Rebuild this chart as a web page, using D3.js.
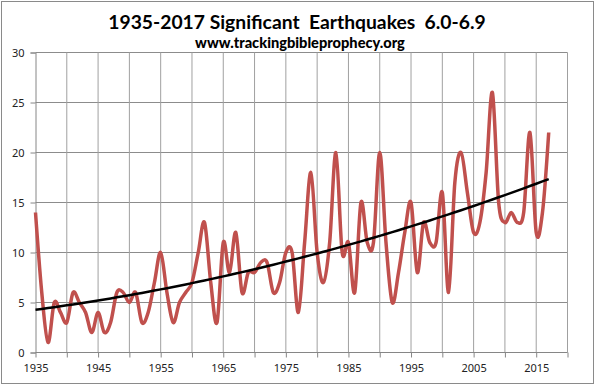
<!DOCTYPE html>
<html>
<head>
<meta charset="utf-8">
<script src="https://cdn.jsdelivr.net/npm/d3@7"></script>
<style>
  body { margin: 0; background: #fff; }
  svg { display: block; }
</style>
</head>
<body>
<svg width="596" height="386"></svg>
<script>
// years 1935..2017, counts
const years = d3.range(1935, 2018)
const counts = [
  14, 6, 1, 5, 4, 3, 6, 5, 4, 2,
  4, 2, 3, 6, 6, 5, 6, 3, 4, 7,
  10, 6, 3, 5, 6, 7, 10, 13, 7, 3,
  11, 8, 12, 6, 8, 8, 9, 9, 6, 7,
  10, 10, 4, 11, 18, 10, 7, 11, 20, 10,
  11, 6, 15, 11, 11, 20, 11, 5, 8, 12,
  15, 8, 13, 11, 11, 16, 6, 17, 20, 16,
  12, 13, 18, 26, 15, 13, 14, 13, 14, 22,
  12, 14, 22
]
const yTicks = [0, 5, 10, 15, 20, 25, 30]
const xLabels = [1935, 1945, 1955, 1965, 1975, 1985, 1995, 2005, 2015]
const xGrid = d3.range(1935, 2021, 5)

const svg = d3.select('svg')

// chart border
svg.append('rect')
  .attr('x', 1.5).attr('y', 1.5)
  .attr('width', 592).attr('height', 382)
  .attr('fill', 'none').attr('stroke', '#8a8a8a')

const x = d3.scaleLinear().domain([1935, 2020]).range([35.5, 567.5])
const y = d3.scaleLinear().domain([0, 30]).range([352.5, 52.5])

// gridlines
svg.append('g').selectAll('line.h')
  .data(yTicks.slice(1)).enter().append('line')
  .attr('x1', x(1935)).attr('x2', x(2020))
  .attr('y1', d => y(d)).attr('y2', d => y(d))
  .attr('stroke', '#8c8c8c')

svg.append('g').selectAll('line.v')
  .data(xGrid.slice(1)).enter().append('line')
  .attr('x1', d => x(d)).attr('x2', d => x(d))
  .attr('y1', y(0)).attr('y2', y(30))
  .attr('stroke', '#a0a0a0')

// axes
const yAxis = svg.append('g')
  .attr('transform', `translate(${x(1935)},0)`)
  .call(d3.axisLeft(y).tickValues(yTicks).tickSize(5).tickPadding(6))
const xAxis = svg.append('g')
  .attr('transform', `translate(0,${y(0)})`)
  .call(d3.axisBottom(x).tickValues(xGrid).tickSize(5).tickPadding(7)
    .tickFormat(d => xLabels.includes(d) ? d : ''))

svg.selectAll('.domain, .tick line').attr('stroke', '#868686')
svg.selectAll('.tick text')
  .attr('font-family', 'Noto Sans, sans-serif')
  .attr('font-size', 11)
  .attr('fill', '#222')
xAxis.selectAll('.domain').attr('d', `M${x(1935)},0H${x(2020)}`)

// data line
const pts = years.map((yr, i) => [yr, counts[i]])
svg.append('path')
  .datum(pts)
  .attr('fill', 'none')
  .attr('stroke', '#c0504d')
  .attr('stroke-width', 3.5)
  .attr('stroke-linejoin', 'round')
  .attr('d', d3.line().x(d => x(d[0])).y(d => y(d[1])).curve(d3.curveCatmullRom.alpha(0)))

// polynomial (order 2) trendline fitted to the counts
function polyfit2(xs, ys) {
  let s = [0, 0, 0, 0, 0], t = [0, 0, 0]
  xs.forEach((xv, i) => {
    let p = 1
    for (let k = 0; k < 5; k++) { s[k] += p; if (k < 3) t[k] += p * ys[i]; p *= xv }
  })
  const A = [[s[0], s[1], s[2], t[0]], [s[1], s[2], s[3], t[1]], [s[2], s[3], s[4], t[2]]]
  for (let c = 0; c < 3; c++) {
    for (let r = c + 1; r < 3; r++) {
      const f = A[r][c] / A[c][c]
      for (let k = c; k < 4; k++) A[r][k] -= f * A[c][k]
    }
  }
  const co = [0, 0, 0]
  for (let r = 2; r >= 0; r--) {
    let v = A[r][3]
    for (let k = r + 1; k < 3; k++) v -= A[r][k] * co[k]
    co[r] = v / A[r][r]
  }
  return co
}
const tx = years.map(yr => yr - 1935)
const co = polyfit2(tx, counts)
const trend = years.map(yr => {
  const t = yr - 1935
  return [yr, co[0] + co[1] * t + co[2] * t * t]
})
svg.append('path')
  .datum(trend)
  .attr('fill', 'none')
  .attr('stroke', '#000')
  .attr('stroke-width', 2.5)
  .attr('d', d3.line().x(d => x(d[0])).y(d => y(d[1])))

// titles
svg.append('text')
  .attr('x', 297).attr('y', 28.5)
  .attr('text-anchor', 'middle')
  .attr('font-family', 'Lato, sans-serif')
  .attr('font-weight', 'bold')
  .attr('font-size', 19.3)
  .style('white-space', 'pre')
  .text('1935-2017 Significant  Earthquakes  6.0-6.9')

svg.append('text')
  .attr('x', 300).attr('y', 47.5)
  .attr('text-anchor', 'middle')
  .attr('font-family', 'Lato, sans-serif')
  .attr('font-weight', 900)
  .attr('font-size', 14.6)
  .text('www.trackingbibleprophecy.org')
</script>
</body>
</html>
